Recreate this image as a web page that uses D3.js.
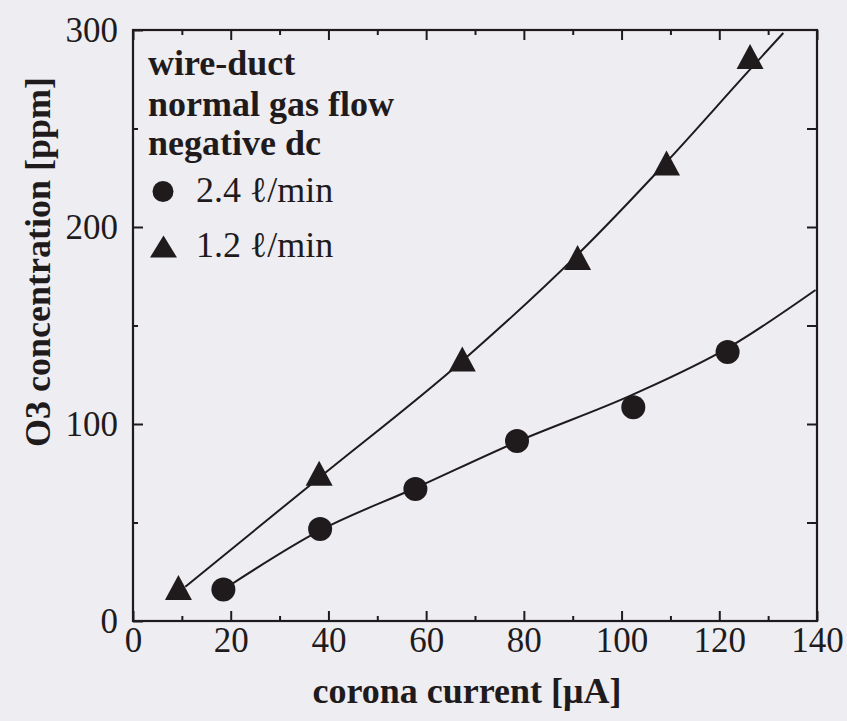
<!DOCTYPE html>
<html>
<head>
<meta charset="utf-8">
<script src="https://cdn.jsdelivr.net/npm/d3@7"></script>
<style>
  html, body { margin: 0; padding: 0; background: #eeedf1; }
  svg { display: block; }
</style>
</head>
<body>
<svg id="chart" width="847" height="721"></svg>
<script>
// ---- data ----
const circleX = [18.5, 38.3, 57.8, 78.6, 102.4, 121.7];
const circleY = [16, 46.7, 67, 91.4, 108.5, 136.5];
const triangleX = [9.3, 38.1, 67.4, 91.0, 109.2, 126.3];
const triangleY = [17, 75, 133, 184.5, 232.5, 286.5];
// fitted curves drawn through the data
const circleFitX = [18.5, 38.3, 57.8, 78.6, 102.4, 121.7, 139.7];
const circleFitY = [16, 46, 67.5, 91, 115, 138.5, 168];
const triangleFitX = [10.7, 38, 67.4, 91, 109.2, 126.3, 133.1];
const triangleFitY = [17.4, 72.5, 132, 186, 233, 280, 298.5];
// axes
const xMajorTicks = [0, 20, 40, 60, 80, 100, 120, 140];
const xMinorTicks = [10, 30, 50, 70, 90, 110, 130];
const yMajorTicks = [0, 100, 200, 300];
const yMinorTicks = [50, 150, 250];
const yRightTicks = [50, 100, 150, 200, 250];
const legendTitle = ["wire-duct", "normal gas flow", "negative dc"];
const seriesLabels = ["2.4 \u2113/min", "1.2 \u2113/min"];
const xTitle = "corona current [\u03BCA]";
const yTitle = "O3 concentration [ppm]";

// ---- layout ----
const ink = "#1f1b1d";
const serif = "'Liberation Serif', 'Times New Roman', 'DejaVu Serif', serif";
const L = 133, R = 817, T = 30, B = 621;

const svg = d3.select("#chart");
svg.append("rect").attr("width", 847).attr("height", 721).attr("fill", "#eeedf1");

const x = d3.scaleLinear().domain([0, 140]).range([L, R]);
const y = d3.scaleLinear().domain([0, 300]).range([B, T]);

function styleAxis(g) {
  g.select(".domain").remove();
  g.selectAll(".tick line").attr("stroke", ink).attr("stroke-width", 2);
  g.selectAll(".tick text").attr("fill", ink).attr("font-family", serif).attr("font-size", 35);
}

// bottom
svg.append("g").attr("transform", `translate(0,${B})`)
  .call(d3.axisBottom(x).tickValues(xMajorTicks).tickSize(-10).tickPadding(6).tickFormat(d3.format("d")))
  .call(styleAxis);
svg.append("g").attr("transform", `translate(0,${B})`)
  .call(d3.axisBottom(x).tickValues(xMinorTicks).tickSize(-5).tickFormat(""))
  .call(styleAxis);
// top
svg.append("g").attr("transform", `translate(0,${T})`)
  .call(d3.axisTop(x).tickValues(xMajorTicks).tickSize(-10).tickFormat(""))
  .call(styleAxis);
svg.append("g").attr("transform", `translate(0,${T})`)
  .call(d3.axisTop(x).tickValues(xMinorTicks).tickSize(-5).tickFormat(""))
  .call(styleAxis);
// left
svg.append("g").attr("transform", `translate(${L},0)`)
  .call(d3.axisLeft(y).tickValues(yMajorTicks).tickSize(-10).tickPadding(15).tickFormat(d3.format("d")))
  .call(styleAxis);
svg.append("g").attr("transform", `translate(${L},0)`)
  .call(d3.axisLeft(y).tickValues(yMinorTicks).tickSize(-5).tickFormat(""))
  .call(styleAxis);
// right
svg.append("g").attr("transform", `translate(${R},0)`)
  .call(d3.axisRight(y).tickValues(yRightTicks).tickSize(-10).tickFormat(""))
  .call(styleAxis);

// frame
svg.append("rect")
  .attr("x", x(0)).attr("y", y(300))
  .attr("width", x(140) - x(0)).attr("height", y(0) - y(300))
  .attr("fill", "none").attr("stroke", ink).attr("stroke-width", 2.2);

// fitted curves
const line = d3.line().x(d => x(d[0])).y(d => y(d[1])).curve(d3.curveMonotoneX);
svg.append("path").datum(d3.zip(circleFitX, circleFitY))
  .attr("d", line).attr("fill", "none").attr("stroke", ink).attr("stroke-width", 2);
svg.append("path").datum(d3.zip(triangleFitX, triangleFitY))
  .attr("d", line).attr("fill", "none").attr("stroke", ink).attr("stroke-width", 2);

// markers
function triPath(cx, cy, w, h) {
  const p = d3.path();
  p.moveTo(cx, cy - h / 2);
  p.lineTo(cx + w / 2, cy + h / 2);
  p.lineTo(cx - w / 2, cy + h / 2);
  p.closePath();
  return p.toString();
}
svg.append("g").selectAll("circle").data(d3.zip(circleX, circleY)).join("circle")
  .attr("cx", d => x(d[0])).attr("cy", d => y(d[1])).attr("r", 12).attr("fill", ink);
svg.append("g").selectAll("path").data(d3.zip(triangleX, triangleY)).join("path")
  .attr("d", d => triPath(x(d[0]), y(d[1]), 27, 25)).attr("fill", ink);

// legend
const lg = svg.append("g").attr("font-family", serif).attr("fill", ink);
const titleBase = [75, 116, 155];
legendTitle.forEach((t, i) => {
  lg.append("text").attr("x", 148).attr("y", titleBase[i])
    .attr("font-size", 36).attr("font-weight", "bold").text(t);
});
lg.append("circle").attr("cx", 163).attr("cy", 191.5).attr("r", 10.5).attr("fill", ink);
lg.append("path").attr("d", triPath(163.5, 246.5, 27, 22)).attr("fill", ink);
lg.append("text").attr("x", 196).attr("y", 202).attr("font-size", 36).text(seriesLabels[0]);
lg.append("text").attr("x", 196).attr("y", 257).attr("font-size", 36).text(seriesLabels[1]);

// axis titles
svg.append("text").attr("x", 467).attr("y", 703)
  .attr("text-anchor", "middle").attr("font-family", serif).attr("font-weight", "bold")
  .attr("font-size", 36).attr("fill", ink).text(xTitle);
svg.append("text").attr("transform", "translate(50,262) rotate(-90)")
  .attr("text-anchor", "middle").attr("font-family", serif).attr("font-weight", "bold")
  .attr("font-size", 36).attr("fill", ink).text(yTitle);
</script>
</body>
</html>
